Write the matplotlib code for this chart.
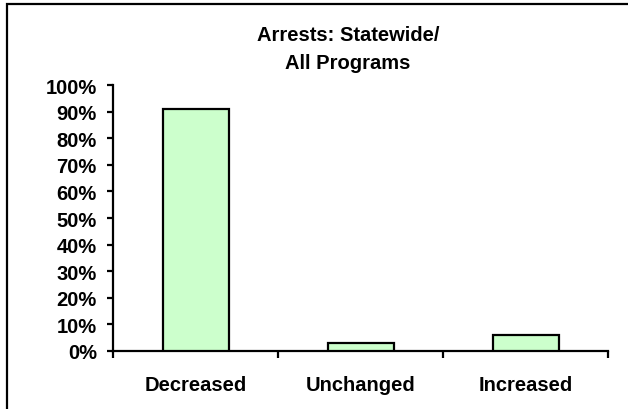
import numpy as np
import matplotlib
matplotlib.use('Agg')
import matplotlib.pyplot as plt
from matplotlib.patches import Rectangle
from matplotlib.ticker import FixedLocator, PercentFormatter

plt.rcParams['font.family'] = ['Liberation Sans', 'DejaVu Sans']
plt.rcParams['font.weight'] = 'bold'

# Share of clients by change in arrests
categories = ['Decreased', 'Unchanged', 'Increased']
shares = [0.91, 0.03, 0.06]
y_ticks = [0.0, 0.1, 0.2, 0.3, 0.4, 0.5, 0.6, 0.7, 0.8, 0.9, 1.0]

fig = plt.figure(figsize=(6.28, 4.10), dpi=100)
ax = fig.add_axes([0.1807, 0.1415, 0.9682 - 0.1807, 0.7902 - 0.1415])

x = np.arange(len(categories))
ax.bar(x, shares, width=0.4, color='#CCFFCC', edgecolor='black', linewidth=1.6, zorder=3)

ax.set_xlim(-0.5, len(categories) - 0.5)
ax.set_ylim(0, 1)

# y axis: percent labels, outward ticks
ax.yaxis.set_major_locator(FixedLocator(y_ticks))
ax.yaxis.set_major_formatter(PercentFormatter(1.0, decimals=0))
ax.tick_params(axis='y', direction='out', length=4, width=1.6, pad=8, labelsize=14.5)

# x axis: tick marks between categories, labels centred on bars
ax.xaxis.set_major_locator(FixedLocator(np.arange(len(categories) + 1) - 0.5))
ax.xaxis.set_major_formatter(plt.NullFormatter())
ax.xaxis.set_minor_locator(FixedLocator(x))
ax.set_xticklabels(categories, minor=True)
ax.tick_params(axis='x', which='major', direction='out', length=5, width=1.6)
ax.tick_params(axis='x', which='minor', length=0, pad=17, labelsize=14.5)

for side in ['top', 'right']:
    ax.spines[side].set_visible(False)
for side in ['left', 'bottom']:
    ax.spines[side].set_linewidth(1.6)

fig.text(348 / 628, 0.880, 'Arrests: Statewide/\nAll Programs', ha='center', va='center',
         fontsize=14.5, fontweight='bold', linespacing=1.6)

# chart frame
fig.add_artist(Rectangle((7 / 628, -0.1), 1.2, 0.9878 + 0.1, transform=fig.transFigure,
                         fill=False, edgecolor='black', linewidth=1.6, clip_on=False))

fig.savefig('out.png', dpi=100)
